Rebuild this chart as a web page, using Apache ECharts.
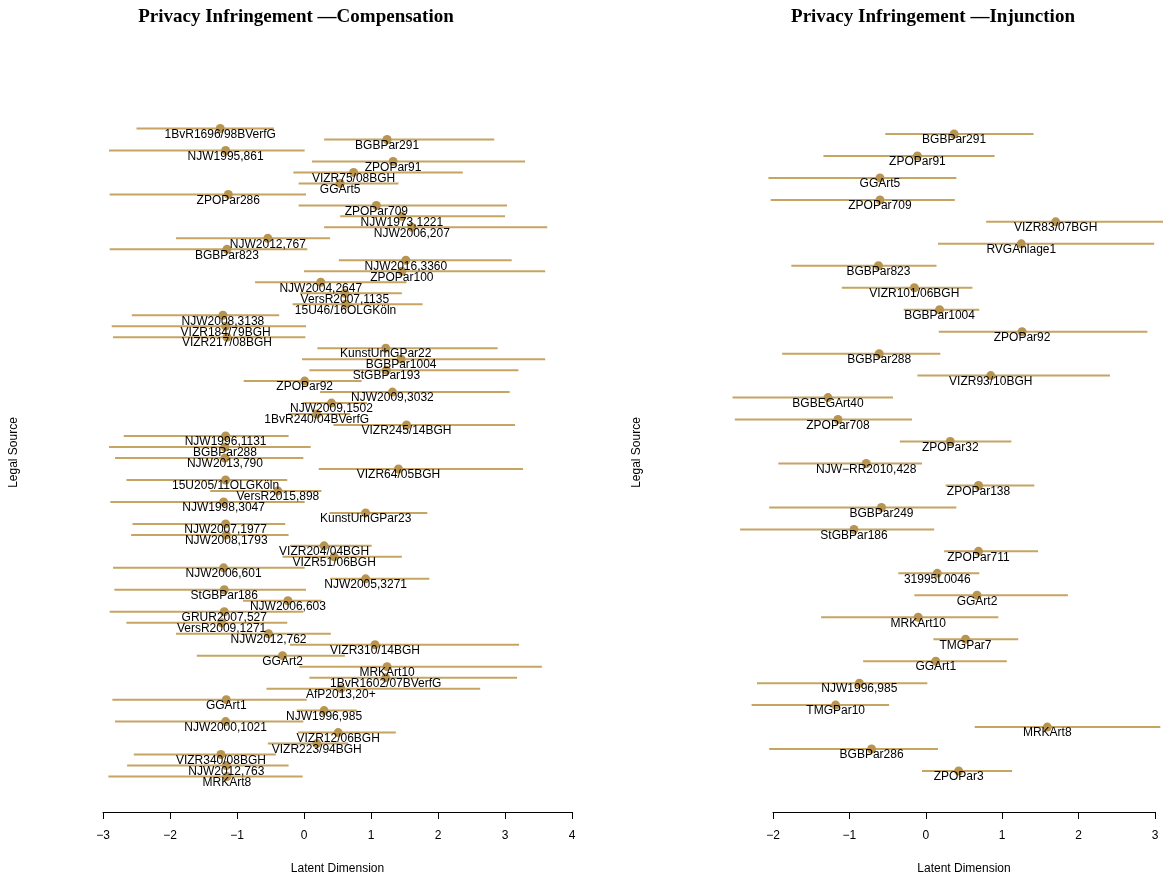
<!DOCTYPE html>
<html>
<head>
<meta charset="utf-8">
<style>
  html, body { margin: 0; padding: 0; background: #ffffff; }
  #chart { width: 1163px; height: 880px; }
</style>
<script src="https://cdn.jsdelivr.net/npm/echarts@6/dist/echarts.min.js"></script>
</head>
<body>
<div id="chart"></div>
<script>
// Compensation panel: legal sources, posterior means and interval bounds
const compNames = [
  '1BvR1696/98BVerfG', 'BGBPar291', 'NJW1995,861', 'ZPOPar91', 'VIZR75/08BGH',
  'GGArt5', 'ZPOPar286', 'ZPOPar709', 'NJW1973,1221', 'NJW2006,207',
  'NJW2012,767', 'BGBPar823', 'NJW2016,3360', 'ZPOPar100', 'NJW2004,2647',
  'VersR2007,1135', '15U46/16OLGKöln', 'NJW2008,3138', 'VIZR184/79BGH', 'VIZR217/08BGH',
  'KunstUrhGPar22', 'BGBPar1004', 'StGBPar193', 'ZPOPar92', 'NJW2009,3032',
  'NJW2009,1502', '1BvR240/04BVerfG', 'VIZR245/14BGH', 'NJW1996,1131', 'BGBPar288',
  'NJW2013,790', 'VIZR64/05BGH', '15U205/11OLGKöln', 'VersR2015,898', 'NJW1998,3047',
  'KunstUrhGPar23', 'NJW2007,1977', 'NJW2008,1793', 'VIZR204/04BGH', 'VIZR51/06BGH',
  'NJW2006,601', 'NJW2005,3271', 'StGBPar186', 'NJW2006,603', 'GRUR2007,527',
  'VersR2009,1271', 'NJW2012,762', 'VIZR310/14BGH', 'GGArt2', 'MRKArt10',
  '1BvR1602/07BVerfG', 'AfP2013,20+', 'GGArt1', 'NJW1996,985', 'NJW2000,1021',
  'VIZR12/06BGH', 'VIZR223/94BGH', 'VIZR340/08BGH', 'NJW2012,763', 'MRKArt8'
];
const compMean = [
  -1.25, 1.24, -1.17, 1.33, 0.74,
  0.54, -1.13, 1.08, 1.46, 1.61,
  -0.54, -1.15, 1.52, 1.46, 0.25,
  0.61, 0.62, -1.21, -1.17, -1.15,
  1.22, 1.45, 1.23, 0.01, 1.32,
  0.41, 0.19, 1.53, -1.17, -1.18,
  -1.18, 1.41, -1.17, -0.39, -1.20,
  0.92, -1.17, -1.16, 0.30, 0.45,
  -1.20, 0.92, -1.19, -0.24, -1.19,
  -1.23, -0.53, 1.06, -0.32, 1.24,
  1.22, 0.55, -1.16, 0.30, -1.17,
  0.51, 0.19, -1.24, -1.16, -1.15
];
const compLower = [
  -2.50, 0.30, -2.91, 0.12, -0.16,
  -0.08, -2.90, -0.08, 0.54, 0.30,
  -1.91, -2.90, 0.52, 0.00, -0.73,
  -0.06, -0.17, -2.57, -2.87, -2.85,
  0.20, -0.03, 0.08, -0.90, 0.24,
  -0.02, -0.24, 0.44, -2.69, -2.91,
  -2.82, 0.22, -2.65, -1.40, -2.89,
  0.38, -2.56, -2.58, -0.21, -0.32,
  -2.85, 0.39, -2.83, -0.91, -2.90,
  -2.65, -1.91, -0.21, -1.60, -0.07,
  0.08, -0.56, -2.86, -0.11, -2.82,
  -0.09, -0.54, -2.54, -2.64, -2.92
];
const compUpper = [
  -0.45, 2.84, 0.01, 3.30, 2.37,
  1.41, 0.03, 3.03, 3.00, 3.63,
  0.39, 0.05, 3.10, 3.60, 1.53,
  1.46, 1.77, -0.37, 0.03, 0.02,
  2.89, 3.60, 3.20, 0.86, 3.07,
  0.94, 0.69, 3.15, -0.23, 0.10,
  -0.01, 3.27, -0.25, 0.26, 0.01,
  1.84, -0.28, -0.23, 1.01, 1.46,
  0.01, 1.87, 0.03, 0.26, -0.01,
  -0.25, 0.40, 3.21, 0.61, 3.55,
  3.18, 2.63, 0.04, 0.79, -0.01,
  1.37, 0.66, -0.42, -0.23, -0.02
];

// Injunction panel
const injNames = [
  'BGBPar291', 'ZPOPar91', 'GGArt5', 'ZPOPar709', 'VIZR83/07BGH',
  'RVGAnlage1', 'BGBPar823', 'VIZR101/06BGH', 'BGBPar1004', 'ZPOPar92',
  'BGBPar288', 'VIZR93/10BGH', 'BGBEGArt40', 'ZPOPar708', 'ZPOPar32',
  'NJW\u2212RR2010,428', 'ZPOPar138', 'BGBPar249', 'StGBPar186', 'ZPOPar711',
  '31995L0046', 'GGArt2', 'MRKArt10', 'TMGPar7', 'GGArt1',
  'NJW1996,985', 'TMGPar10', 'MRKArt8', 'BGBPar286', 'ZPOPar3'
];
const injMean = [
  0.37, -0.11, -0.60, -0.60, 1.70,
  1.25, -0.62, -0.15, 0.18, 1.26,
  -0.61, 0.85, -1.28, -1.15, 0.32,
  -0.78, 0.69, -0.58, -0.94, 0.69,
  0.15, 0.67, -0.10, 0.52, 0.13,
  -0.87, -1.18, 1.59, -0.71, 0.43
];
const injLower = [
  -0.53, -1.34, -2.06, -2.03, 0.79,
  0.16, -1.76, -1.10, -0.29, 0.17,
  -1.88, -0.11, -2.53, -2.50, -0.34,
  -1.93, 0.26, -2.05, -2.43, 0.24,
  -0.36, -0.15, -1.37, 0.10, -0.82,
  -2.21, -2.28, 0.64, -2.05, -0.05
];
const injUpper = [
  1.41, 0.90, 0.40, 0.38, 3.12,
  2.99, 0.14, 0.61, 0.70, 2.90,
  0.19, 2.41, -0.43, -0.18, 1.12,
  -0.05, 1.42, 0.40, 0.11, 1.47,
  0.70, 1.86, 0.95, 1.21, 1.06,
  0.02, -0.48, 3.07, 0.16, 1.13
];

const titles = ['Privacy Infringement \u2014Compensation', 'Privacy Infringement \u2014Injunction'];
const xRanges = [[-3, 4], [-2, 3]];

const LINE_COLOR = '#C6A462';
const POINT_COLOR = '#B9944F';
const FONT = '"Liberation Sans", Arial, Helvetica, sans-serif';
const TITLE_FONT = '"Liberation Serif", "Times New Roman", serif';

// Horizontal interval bar for each legal source
function intervalSeries(idx, lower, upper) {
  return {
    type: 'custom',
    xAxisIndex: idx,
    yAxisIndex: idx,
    clip: false,
    silent: true,
    z: 1,
    data: lower.map((lo, i) => [lo, upper[i], i]),
    encode: { x: [0, 1], y: 2 },
    renderItem: function (params, api) {
      const a = api.coord([api.value(0), api.value(2)]);
      const b = api.coord([api.value(1), api.value(2)]);
      return {
        type: 'line',
        shape: { x1: a[0], y1: a[1], x2: b[0], y2: b[1] },
        style: { stroke: LINE_COLOR, lineWidth: 2 }
      };
    }
  };
}

// Point estimate with its source name written just underneath
function pointSeries(idx, names, means) {
  return {
    type: 'scatter',
    xAxisIndex: idx,
    yAxisIndex: idx,
    symbol: 'circle',
    symbolSize: 9,
    clip: false,
    silent: true,
    z: 2,
    itemStyle: { color: POINT_COLOR, opacity: 1 },
    data: means.map((m, i) => ({ value: [m, i], name: names[i] })),
    label: {
      show: true,
      position: 'inside',
      offset: [0, 6],
      formatter: p => p.name,
      color: '#000000',
      fontSize: 12,
      fontFamily: FONT
    }
  };
}

function xAxisFor(idx) {
  return {
    type: 'value',
    gridIndex: idx,
    min: xRanges[idx][0],
    max: xRanges[idx][1],
    interval: 1,
    position: 'bottom',
    offset: 30,
    name: 'Latent Dimension',
    nameLocation: 'middle',
    nameGap: 51,
    nameTextStyle: { color: '#000000', fontSize: 12, fontFamily: FONT },
    axisLine: { show: true, lineStyle: { color: '#000000', width: 1 } },
    axisTick: { show: true, inside: false, length: 7, lineStyle: { color: '#000000' } },
    axisLabel: {
      color: '#000000', fontSize: 12, fontFamily: FONT, margin: 18,
      formatter: v => (v < 0 ? '\u2212' + Math.abs(v) : String(v))
    },
    splitLine: { show: false }
  };
}

function yAxisFor(idx, names, gap) {
  return {
    type: 'category',
    gridIndex: idx,
    data: names,
    inverse: true,
    boundaryGap: true,
    name: 'Legal Source',
    nameLocation: 'middle',
    nameRotate: 90,
    nameGap: gap,
    nameTextStyle: { color: '#000000', fontSize: 12, fontFamily: FONT },
    axisLine: { show: false },
    axisTick: { show: false },
    axisLabel: { show: false },
    splitLine: { show: false }
  };
}

const chart = echarts.init(document.getElementById('chart'), null, { renderer: 'canvas' });
chart.setOption({
  animation: false,
  backgroundColor: '#ffffff',
  title: [
    {
      text: titles[0], left: 291, top: 3, textAlign: 'center',
      textStyle: { fontFamily: TITLE_FONT, fontWeight: 'bold', fontSize: 19, color: '#000000' }
    },
    {
      text: titles[1], left: 928, top: 3, textAlign: 'center',
      textStyle: { fontFamily: TITLE_FONT, fontWeight: 'bold', fontSize: 19, color: '#000000' }
    }
  ],
  grid: [
    { left: 103, width: 469, top: 123, height: 660 },
    { left: 773, width: 382, top: 123, height: 660 }
  ],
  xAxis: [xAxisFor(0), xAxisFor(1)],
  yAxis: [yAxisFor(0, compNames, 83), yAxisFor(1, injNames, 130)],
  series: [
    intervalSeries(0, compLower, compUpper),
    pointSeries(0, compNames, compMean),
    intervalSeries(1, injLower, injUpper),
    pointSeries(1, injNames, injMean)
  ]
});
</script>
</body>
</html>
